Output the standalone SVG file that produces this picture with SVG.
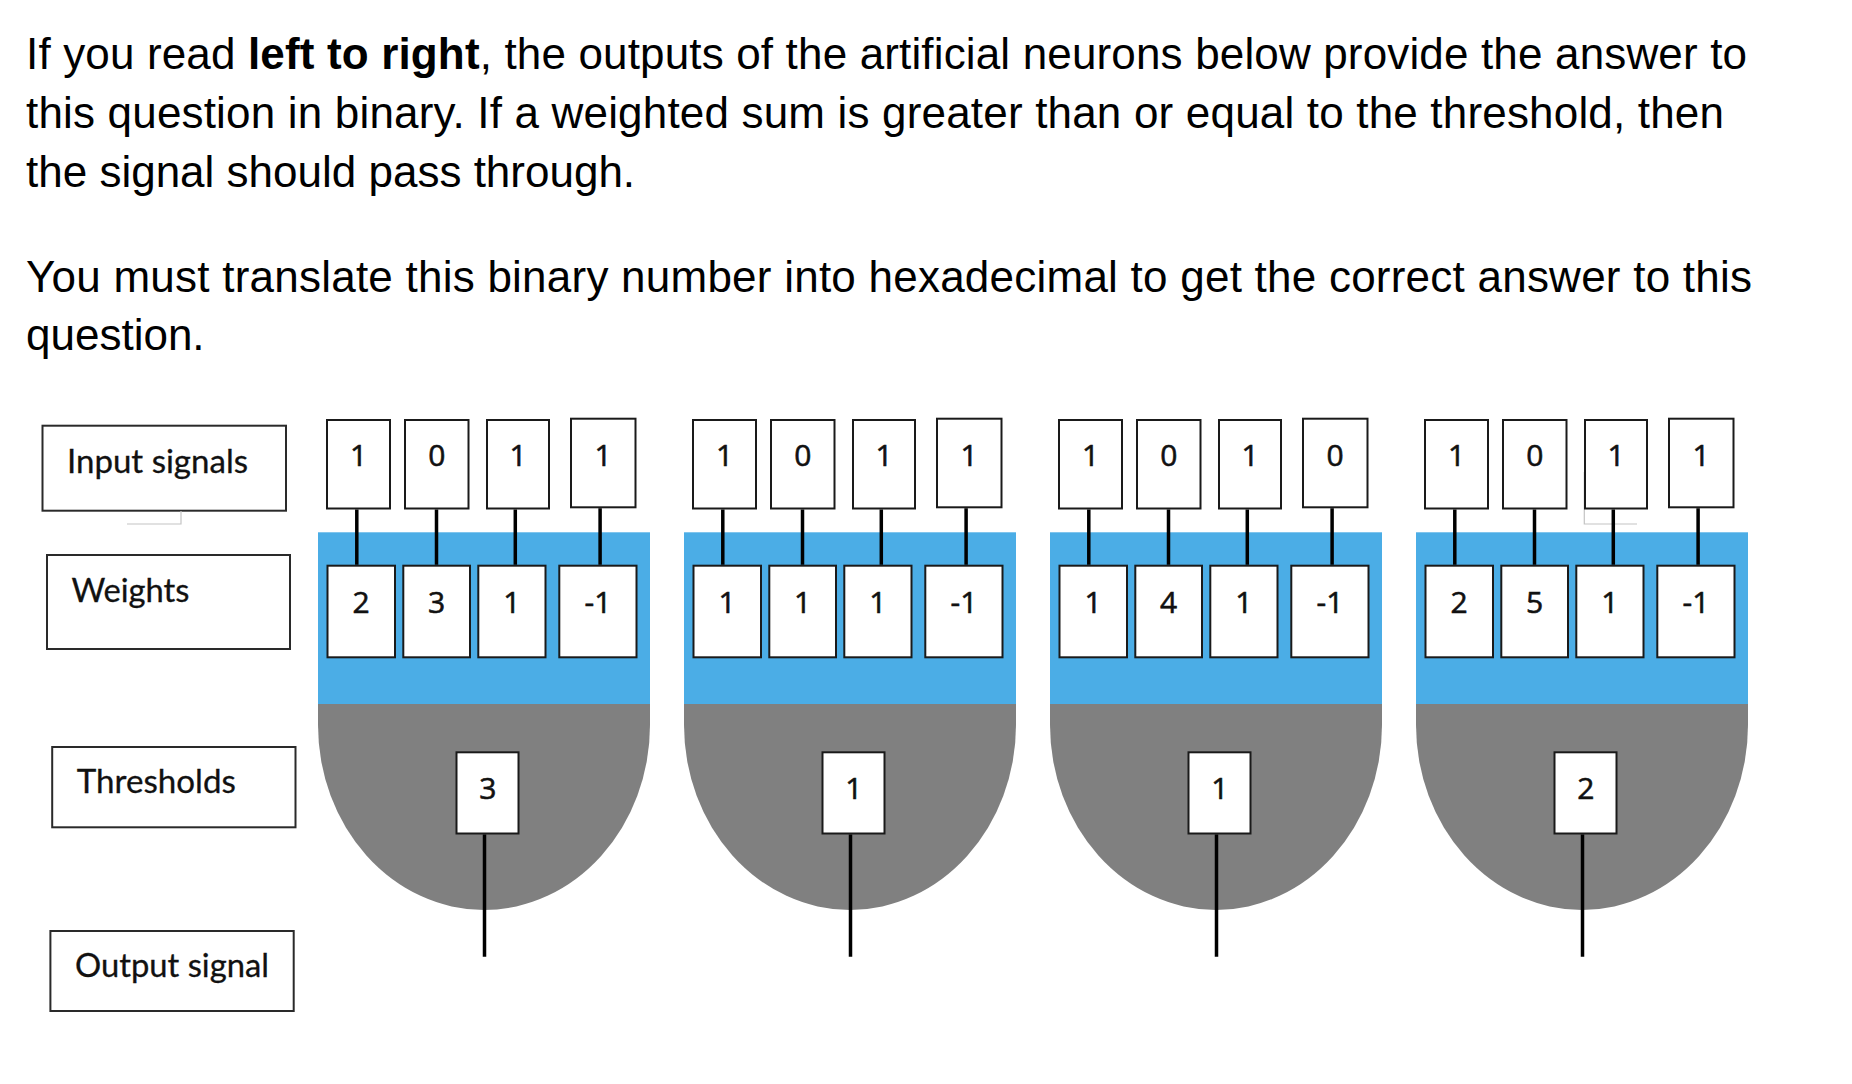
<svg xmlns="http://www.w3.org/2000/svg" width="1852" height="1084" viewBox="0 0 1852 1084">
<defs>
<style>
.para{font-family:"Liberation Sans",Arial,sans-serif;font-size:44px;fill:#000}
.b{font-weight:bold}
.lbl{fill:#fff;stroke:#2a2a2a;stroke-width:2}
.lt{font-family:Lato,"Open Sans",sans-serif;font-size:32px;fill:#111;stroke:#111;stroke-width:0.3}
.box{fill:#fff;stroke:#1a1a1a;stroke-width:2}
.dg{font-family:"Open Sans",Lato,sans-serif;font-size:30px;fill:#111;stroke:#111;stroke-width:0.6;text-anchor:middle}
.blue{fill:#4badE6}
.gray{fill:#808080}
.wire{stroke:#000;stroke-width:3.5;fill:none}
.ghost{stroke:#c4c4c4;stroke-width:1.2;fill:none}
</style>
</defs>
<rect x="0" y="0" width="1852" height="1084" fill="#fff"/>

<g id="question-text">
<text class="para" x="26" y="69" textLength="1721" lengthAdjust="spacing">If you read <tspan class="b">left to right</tspan>, the outputs of the artificial neurons below provide the answer to</text>
<text class="para" x="26" y="128" textLength="1698" lengthAdjust="spacing">this question in binary. If a weighted sum is greater than or equal to the threshold, then</text>
<text class="para" x="26" y="187">the signal should pass through.</text>
<text class="para" x="26" y="292" textLength="1726" lengthAdjust="spacing">You must translate this binary number into hexadecimal to get the correct answer to this</text>
<text class="para" x="26" y="350">question.</text>
</g>

<g id="label-input-signals">
<rect class="lbl" x="42.5" y="425.7" width="243.5" height="85"/>
<text class="lt" x="67" y="472.7" textLength="181" lengthAdjust="spacingAndGlyphs">Input signals</text>
</g>
<g id="label-weights">
<rect class="lbl" x="47" y="555" width="243" height="94"/>
<text class="lt" x="71.4" y="601.7" textLength="118" lengthAdjust="spacingAndGlyphs">Weights</text>
</g>
<g id="label-thresholds">
<rect class="lbl" x="52.2" y="747" width="243.3" height="80.3"/>
<text class="lt" x="76.8" y="793" textLength="159" lengthAdjust="spacingAndGlyphs">Thresholds</text>
</g>
<g id="label-output-signal">
<rect class="lbl" x="50.4" y="931" width="243.3" height="80"/>
<text class="lt" x="75" y="976.7" textLength="194" lengthAdjust="spacingAndGlyphs">Output signal</text>
</g>

<g id="ghost-marks">
<path class="ghost" d="M181,511 V524 H127"/>
<path class="ghost" d="M1584.3,472 V524 H1637"/>
</g>

<g id="neuron-1" transform="translate(318,0)">
<rect class="blue" x="0" y="532.3" width="332" height="172"/>
<path class="gray" d="M0,704 H332 V725 A166,185 0 0 1 0,725 Z"/>
<g id="n1-in1"><rect class="box" x="9" y="420" width="63" height="88.5"/><text class="dg" x="40.5" y="466">1</text></g>
<g id="n1-in2"><rect class="box" x="87" y="420" width="63.5" height="88.5"/><text class="dg" x="118.8" y="466">0</text></g>
<g id="n1-in3"><rect class="box" x="169" y="420" width="62" height="88.5"/><text class="dg" x="200" y="466">1</text></g>
<g id="n1-in4"><rect class="box" x="253" y="418.7" width="64.5" height="88.6"/><text class="dg" x="285.2" y="466">1</text></g>
<g id="n1-w1"><rect class="box" x="9.5" y="565.7" width="67.5" height="91.6"/><text class="dg" x="43.2" y="613">2</text></g>
<g id="n1-w2"><rect class="box" x="85.3" y="565.7" width="66.7" height="91.6"/><text class="dg" x="118.7" y="613">3</text></g>
<g id="n1-w3"><rect class="box" x="160.3" y="565.7" width="67.2" height="91.6"/><text class="dg" x="193.9" y="613">1</text></g>
<g id="n1-w4"><rect class="box" x="241.3" y="565.7" width="77.2" height="91.6"/><text class="dg" x="279.9" y="613">-1</text></g>
<g id="n1-th"><rect class="box" x="138.5" y="752.3" width="62" height="81.2"/><text class="dg" x="169.8" y="798.5">3</text></g>
</g>

<g id="neuron-2" transform="translate(684,0)">
<rect class="blue" x="0" y="532.3" width="332" height="172"/>
<path class="gray" d="M0,704 H332 V725 A166,185 0 0 1 0,725 Z"/>
<g id="n2-in1"><rect class="box" x="9" y="420" width="63" height="88.5"/><text class="dg" x="40.5" y="466">1</text></g>
<g id="n2-in2"><rect class="box" x="87" y="420" width="63.5" height="88.5"/><text class="dg" x="118.8" y="466">0</text></g>
<g id="n2-in3"><rect class="box" x="169" y="420" width="62" height="88.5"/><text class="dg" x="200" y="466">1</text></g>
<g id="n2-in4"><rect class="box" x="253" y="418.7" width="64.5" height="88.6"/><text class="dg" x="285.2" y="466">1</text></g>
<g id="n2-w1"><rect class="box" x="9.5" y="565.7" width="67.5" height="91.6"/><text class="dg" x="43.2" y="613">1</text></g>
<g id="n2-w2"><rect class="box" x="85.3" y="565.7" width="66.7" height="91.6"/><text class="dg" x="118.7" y="613">1</text></g>
<g id="n2-w3"><rect class="box" x="160.3" y="565.7" width="67.2" height="91.6"/><text class="dg" x="193.9" y="613">1</text></g>
<g id="n2-w4"><rect class="box" x="241.3" y="565.7" width="77.2" height="91.6"/><text class="dg" x="279.9" y="613">-1</text></g>
<g id="n2-th"><rect class="box" x="138.5" y="752.3" width="62" height="81.2"/><text class="dg" x="169.8" y="798.5">1</text></g>
</g>

<g id="neuron-3" transform="translate(1050,0)">
<rect class="blue" x="0" y="532.3" width="332" height="172"/>
<path class="gray" d="M0,704 H332 V725 A166,185 0 0 1 0,725 Z"/>
<g id="n3-in1"><rect class="box" x="9" y="420" width="63" height="88.5"/><text class="dg" x="40.5" y="466">1</text></g>
<g id="n3-in2"><rect class="box" x="87" y="420" width="63.5" height="88.5"/><text class="dg" x="118.8" y="466">0</text></g>
<g id="n3-in3"><rect class="box" x="169" y="420" width="62" height="88.5"/><text class="dg" x="200" y="466">1</text></g>
<g id="n3-in4"><rect class="box" x="253" y="418.7" width="64.5" height="88.6"/><text class="dg" x="285.2" y="466">0</text></g>
<g id="n3-w1"><rect class="box" x="9.5" y="565.7" width="67.5" height="91.6"/><text class="dg" x="43.2" y="613">1</text></g>
<g id="n3-w2"><rect class="box" x="85.3" y="565.7" width="66.7" height="91.6"/><text class="dg" x="118.7" y="613">4</text></g>
<g id="n3-w3"><rect class="box" x="160.3" y="565.7" width="67.2" height="91.6"/><text class="dg" x="193.9" y="613">1</text></g>
<g id="n3-w4"><rect class="box" x="241.3" y="565.7" width="77.2" height="91.6"/><text class="dg" x="279.9" y="613">-1</text></g>
<g id="n3-th"><rect class="box" x="138.5" y="752.3" width="62" height="81.2"/><text class="dg" x="169.8" y="798.5">1</text></g>
</g>

<g id="neuron-4" transform="translate(1416,0)">
<rect class="blue" x="0" y="532.3" width="332" height="172"/>
<path class="gray" d="M0,704 H332 V725 A166,185 0 0 1 0,725 Z"/>
<g id="n4-in1"><rect class="box" x="9" y="420" width="63" height="88.5"/><text class="dg" x="40.5" y="466">1</text></g>
<g id="n4-in2"><rect class="box" x="87" y="420" width="63.5" height="88.5"/><text class="dg" x="118.8" y="466">0</text></g>
<g id="n4-in3"><rect class="box" x="169" y="420" width="62" height="88.5"/><text class="dg" x="200" y="466">1</text></g>
<g id="n4-in4"><rect class="box" x="253" y="418.7" width="64.5" height="88.6"/><text class="dg" x="285.2" y="466">1</text></g>
<g id="n4-w1"><rect class="box" x="9.5" y="565.7" width="67.5" height="91.6"/><text class="dg" x="43.2" y="613">2</text></g>
<g id="n4-w2"><rect class="box" x="85.3" y="565.7" width="66.7" height="91.6"/><text class="dg" x="118.7" y="613">5</text></g>
<g id="n4-w3"><rect class="box" x="160.3" y="565.7" width="67.2" height="91.6"/><text class="dg" x="193.9" y="613">1</text></g>
<g id="n4-w4"><rect class="box" x="241.3" y="565.7" width="77.2" height="91.6"/><text class="dg" x="279.9" y="613">-1</text></g>
<g id="n4-th"><rect class="box" x="138.5" y="752.3" width="62" height="81.2"/><text class="dg" x="169.8" y="798.5">2</text></g>
</g>

<g id="connectors">
<g transform="translate(318,0)">
<path class="wire" d="M38.8,509.5 V564.7 M118.5,509.5 V564.7 M197.3,509.5 V564.7 M282.1,508.3 V564.7 M166.5,834.5 V956.7"/>
</g>
<g transform="translate(684,0)">
<path class="wire" d="M38.8,509.5 V564.7 M118.5,509.5 V564.7 M197.3,509.5 V564.7 M282.1,508.3 V564.7 M166.5,834.5 V956.7"/>
</g>
<g transform="translate(1050,0)">
<path class="wire" d="M38.8,509.5 V564.7 M118.5,509.5 V564.7 M197.3,509.5 V564.7 M282.1,508.3 V564.7 M166.5,834.5 V956.7"/>
</g>
<g transform="translate(1416,0)">
<path class="wire" d="M38.8,509.5 V564.7 M118.5,509.5 V564.7 M197.3,509.5 V564.7 M282.1,508.3 V564.7 M166.5,834.5 V956.7"/>
</g>
</g>
</svg>
